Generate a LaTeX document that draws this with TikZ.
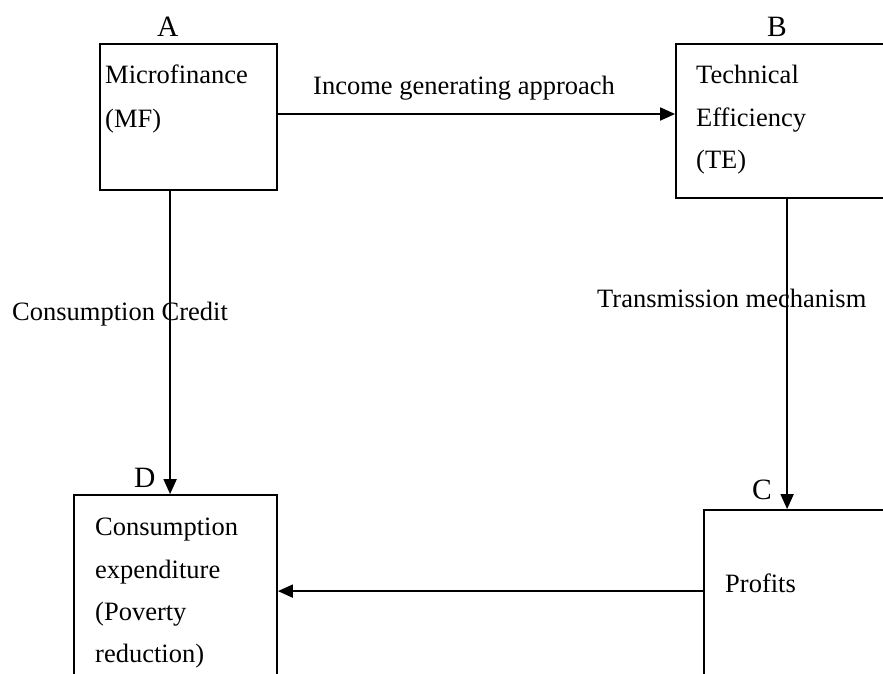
\documentclass[tikz,border=0pt]{standalone}
\usepackage{fontspec}
\setmainfont{Liberation Serif}
\usetikzlibrary{arrows.meta}
\begin{document}
\begin{tikzpicture}[x=1pt,y=-1pt,
  boxnode/.style={draw,line width=1.8pt,rectangle,inner sep=0pt},
  txt/.style={font=\fontsize{26.5}{43}\selectfont,inner sep=0pt,anchor=base west},
  letter/.style={font=\fontsize{29.5}{36}\selectfont,inner sep=0pt,anchor=base west},
  conn/.style={line width=1.8pt,-{Triangle[length=15pt,width=13pt]}}]
\useasboundingbox (0,0) rectangle (883,673);
\clip (0,0) rectangle (883,673);
% boxes
\node[boxnode,minimum width=177pt,minimum height=146pt] (A) at (188.5,117) {};
\node[boxnode,minimum width=240pt,minimum height=154pt] (B) at (796,121) {};
\node[boxnode,minimum width=220pt,minimum height=200pt] (C) at (814,610) {};
\node[boxnode,minimum width=203pt,minimum height=210pt] (D) at (175.5,600) {};
% box texts
\node[txt] (ta1) at (105,83) {Microfinance};
\node[txt] (ta2) at (105,127) {(MF)};
\node[txt] (tb1) at (696,83) {Technical};
\node[txt] (tb2) at (696,126) {Efficiency};
\node[txt] (tb3) at (696,168) {(TE)};
\node[txt] (tc1) at (725,592) {Profits};
\node[txt] (td1) at (95,535) {Consumption};
\node[txt] (td2) at (95,578) {expenditure};
\node[txt] (td3) at (95,620) {(Poverty};
\node[txt] (td4) at (95,662) {reduction)};
% letters
\node[letter] (la) at (157,36) {A};
\node[letter] (lb) at (767,36) {B};
\node[letter] (lc) at (752,499) {C};
\node[letter] (ld) at (134,487) {D};
% connector labels
\node[txt] (l1) at (313,94) {Income generating approach};
\node[txt] (l2) at (12,320) {Consumption Credit};
\node[txt] (l3) at (597,307) {Transmission mechanism};
% connectors
\coordinate (ae) at ([yshift=3pt]A.east);
\draw[conn] (ae) -- (ae -| B.west);
\coordinate (as) at ([xshift=71pt]A.south west);
\draw[conn] (as) -- (as |- D.north);
\coordinate (bs) at ([xshift=112pt]B.south west);
\draw[conn] (bs) -- (bs |- C.north);
\coordinate (cw) at ([yshift=-82pt]C.north west);
\draw[conn] (cw) -- (cw -| D.east);
\end{tikzpicture}
\end{document}
